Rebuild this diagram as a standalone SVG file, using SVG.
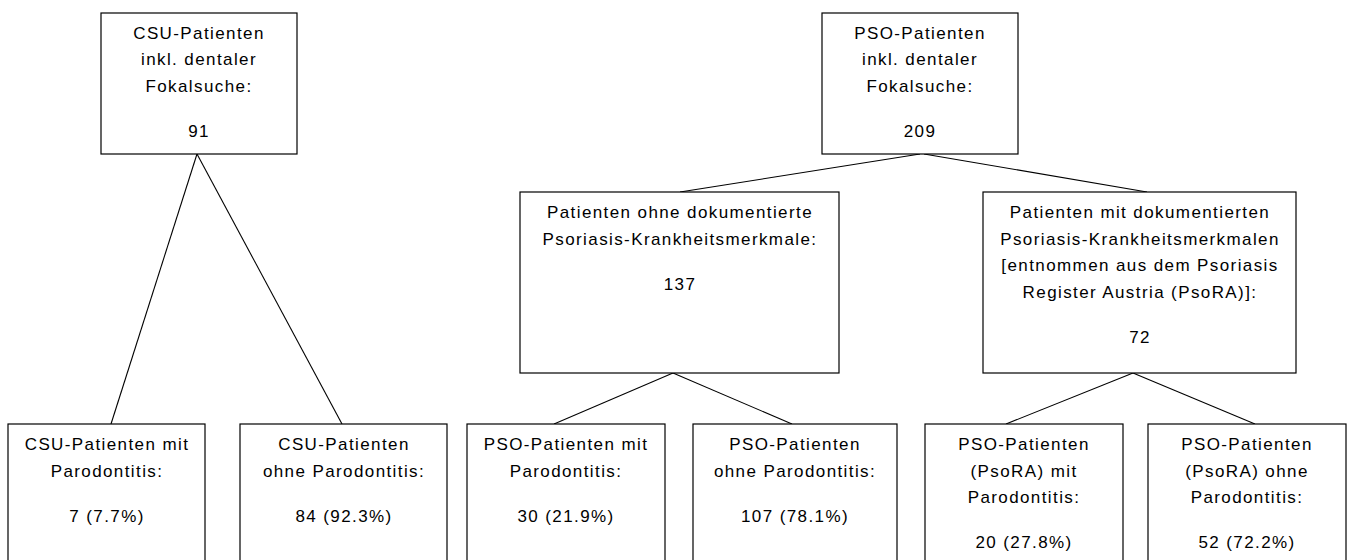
<svg xmlns="http://www.w3.org/2000/svg" width="1347" height="560" viewBox="0 0 1347 560">
<style>
.box{fill:#fff;stroke:#000;stroke-width:1.2}
.ln{stroke:#000;stroke-width:1.1;fill:none}
text{font-family:"Liberation Sans",Arial,sans-serif;font-size:17px;letter-spacing:1.4px;fill:#000;text-anchor:middle}
</style>
<rect width="1347" height="560" fill="#fff"/>
<g id="connectors">
<line class="ln" x1="197" y1="154" x2="111" y2="424"/>
<line class="ln" x1="197" y1="154" x2="342" y2="424"/>
<line class="ln" x1="920" y1="154" x2="680" y2="192"/>
<line class="ln" x1="924" y1="154" x2="1147" y2="192"/>
<line class="ln" x1="673" y1="373" x2="554" y2="424"/>
<line class="ln" x1="673" y1="373" x2="792" y2="424"/>
<line class="ln" x1="1133" y1="373" x2="1006" y2="424"/>
<line class="ln" x1="1133" y1="373" x2="1255" y2="424"/>
</g>
<g id="csu-top">
<rect class="box" x="101" y="13" width="196" height="141"/>
<text x="199" y="38.5">CSU-Patienten</text>
<text x="199" y="65">inkl. dentaler</text>
<text x="199" y="91.5">Fokalsuche:</text>
<text x="199" y="137">91</text>
</g>
<g id="pso-top">
<rect class="box" x="822" y="13" width="196" height="141"/>
<text x="920" y="38.5">PSO-Patienten</text>
<text x="920" y="65">inkl. dentaler</text>
<text x="920" y="91.5">Fokalsuche:</text>
<text x="920" y="137">209</text>
</g>
<g id="pso-ohne-merkmale">
<rect class="box" x="520" y="192" width="319" height="181"/>
<text x="680" y="218">Patienten ohne dokumentierte</text>
<text x="680" y="244.5">Psoriasis-Krankheitsmerkmale:</text>
<text x="680" y="290">137</text>
</g>
<g id="pso-mit-merkmale">
<rect class="box" x="983" y="192" width="313" height="181"/>
<text x="1140" y="218">Patienten mit dokumentierten</text>
<text x="1140" y="244.5">Psoriasis-Krankheitsmerkmalen</text>
<text x="1140" y="271">[entnommen aus dem Psoriasis</text>
<text x="1140" y="297.5">Register Austria (PsoRA)]:</text>
<text x="1140" y="343">72</text>
</g>
<g id="csu-mit">
<rect class="box" x="8" y="424" width="197" height="150"/>
<text x="107" y="450">CSU-Patienten mit</text>
<text x="107" y="476.5">Parodontitis:</text>
<text x="107" y="521.5">7 (7.7%)</text>
</g>
<g id="csu-ohne">
<rect class="box" x="240" y="424" width="207" height="150"/>
<text x="344" y="450">CSU-Patienten</text>
<text x="344" y="476.5">ohne Parodontitis:</text>
<text x="344" y="521.5">84 (92.3%)</text>
</g>
<g id="pso-mit">
<rect class="box" x="467" y="424" width="198" height="150"/>
<text x="566" y="450">PSO-Patienten mit</text>
<text x="566" y="476.5">Parodontitis:</text>
<text x="566" y="521.5">30 (21.9%)</text>
</g>
<g id="pso-ohne">
<rect class="box" x="693" y="424" width="204" height="150"/>
<text x="795" y="450">PSO-Patienten</text>
<text x="795" y="476.5">ohne Parodontitis:</text>
<text x="795" y="521.5">107 (78.1%)</text>
</g>
<g id="psora-mit">
<rect class="box" x="925" y="424" width="198" height="150"/>
<text x="1024" y="450">PSO-Patienten</text>
<text x="1024" y="476.5">(PsoRA) mit</text>
<text x="1024" y="503">Parodontitis:</text>
<text x="1024" y="548">20 (27.8%)</text>
</g>
<g id="psora-ohne">
<rect class="box" x="1148" y="424" width="198" height="150"/>
<text x="1247" y="450">PSO-Patienten</text>
<text x="1247" y="476.5">(PsoRA) ohne</text>
<text x="1247" y="503">Parodontitis:</text>
<text x="1247" y="548">52 (72.2%)</text>
</g>
</svg>
